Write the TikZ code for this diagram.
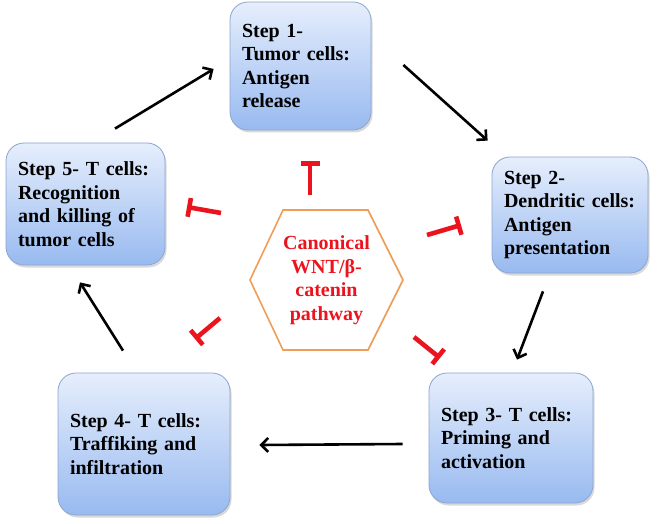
\documentclass[tikz,border=0pt]{standalone}
\usepackage{fontspec}
\setmainfont{Liberation Serif}
\usetikzlibrary{arrows.meta,shadows}

\definecolor{boxtop}{RGB}{230,238,252}
\definecolor{boxbot}{RGB}{152,186,240}
\definecolor{boxline}{RGB}{140,165,205}
\definecolor{inhred}{RGB}{235,20,30}
\definecolor{hexline}{RGB}{238,158,88}

\begin{document}
\begin{tikzpicture}[x=1pt, y=-1pt,
    box/.style={draw=boxline, line width=0.8pt, rounded corners=18pt, top color=boxtop, bottom color=boxbot,
        drop shadow={shadow xshift=1.5pt, shadow yshift=-2.5pt, opacity=0.3},
        align=left, inner xsep=12pt, inner ysep=0pt, font=\fontsize{20pt}{23.5pt}\selectfont\bfseries},
    arr/.style={line width=2.6pt, -{Straight Barb[length=7pt, width=14pt]}},
    inh/.style={draw=inhred, line width=4.6pt, -{Bar[width=19pt]}}]
    \useasboundingbox (0,0) rectangle (661,524);

    % steps of the cycle
    \node[box, text width=117pt, minimum height=128pt] (s1) at (300.5,66) {Step 1-\\Tumor cells:\\Antigen\\release};
    \node[box, text width=132pt, minimum height=116pt] (s2) at (570,215) {Step 2-\\Dendritic cells:\\Antigen\\presentation};
    \node[box, text width=140pt, minimum height=130pt] (s3) at (511,438) {Step 3- T cells:\\Priming and\\activation};
    \node[box, text width=148pt, minimum height=142pt] (s4) at (144,444) {Step 4- T cells:\\Traffiking and\\infiltration};
    \node[box, text width=135pt, minimum height=122pt] (s5) at (85.5,204) {Step 5- T cells:\\Recognition\\and killing of\\tumor cells};

    % pathway in the middle
    \draw[hexline, line width=1.6pt] (250,280) -- (283,210) -- (368,210) -- (403,280) -- (368,350) -- (283,350) -- cycle;
    \node[align=center, text=inhred, font=\fontsize{20pt}{23.5pt}\selectfont\bfseries] (wnt) at (326.5,280)
        {Canonical\\WNT/β-\\catenin\\pathway};

    \path ([shift={(32,-1)}]s1.east) edge[arr] ([shift={(-4,-16)}]s2.north west) % 1 -> 2
          ([shift={(-27,18)}]s2.south) edge[arr] ([shift={(6,-13)}]s3.north) % 2 -> 3
          ([shift={(-26,6)}]s3.west) edge[arr] ([shift={(29,1)}]s4.east) % 3 -> 4
          ([shift={(-21,-22)}]s4.north) edge[arr] ([shift={(-5.5,17)}]s5.south) % 4 -> 5
          ([shift={(29.5,-14)}]s5.north) edge[arr] ([shift={(-16,3)}]s1.west); % 5 -> 1

    % inhibition marks
    \coordinate (t1a) at (310,195); \coordinate (t1b) at (310,161);
    \coordinate (t2a) at (427,235); \coordinate (t2b) at (461,225);
    \coordinate (t3a) at (414,337); \coordinate (t3b) at (440,358);
    \coordinate (t4a) at (220,318); \coordinate (t4b) at (195,339);
    \coordinate (t5a) at (221,213); \coordinate (t5b) at (187,207);
    \foreach \i in {1,...,5}
        \draw[inh] (t\i a) -- (t\i b);
\end{tikzpicture}
\end{document}
